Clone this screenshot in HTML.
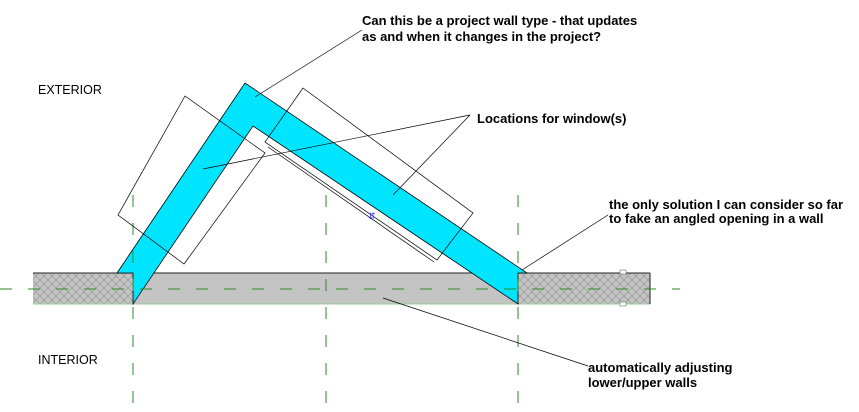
<!DOCTYPE html>
<html><head><style>
html,body{margin:0;padding:0;background:#fff;}
svg{display:block;}
text{font-family:"Liberation Sans",Arial,sans-serif;font-size:12.5px;fill:#000;}
.b{font-weight:bold;font-size:13px;}
</style></head><body>
<svg width="859" height="412" xmlns="http://www.w3.org/2000/svg">
<defs>
<pattern id="h" width="8" height="8" patternUnits="userSpaceOnUse">
<rect width="8" height="8" fill="#c4c4c4"/>
<path d="M0 0L8 8M8 0L0 8" stroke="#999" stroke-width="0.7"/>
</pattern>
</defs>
<rect x="33" y="273" width="100" height="31" fill="url(#h)"/>
<rect x="133" y="273" width="385" height="31" fill="#c4c4c4"/>
<rect x="518" y="273" width="132" height="31" fill="url(#h)"/>
<line x1="33" y1="273" x2="650" y2="273" stroke="#222" stroke-width="1"/>
<line x1="33" y1="304" x2="650" y2="304" stroke="#9c9" stroke-width="1"/>
<line x1="650" y1="273" x2="650" y2="304" stroke="#222"/>
<polygon points="117,273 245,83 527,273 518,273 518,304 253,126 133,304 133,273" fill="#00e5ff" stroke="#000" stroke-width="0.8"/>
<g stroke="#2a8a2a" stroke-width="1" stroke-dasharray="12,16" fill="none">
<line x1="0" y1="289" x2="680" y2="289"/>
<line x1="133" y1="195" x2="133" y2="410"/>
<line x1="326" y1="195" x2="326" y2="410"/>
<line x1="518" y1="195" x2="518" y2="410"/>
</g>
<g stroke="#000" stroke-width="0.7" fill="none">
<polygon points="185,96 265,153 184,264 118,215"/>
<polygon points="303,88 473,213 437,260 265,142"/>
<line x1="268" y1="147" x2="434" y2="262"/>
</g>
<text x="368" y="219" style="fill:#33f;font-size:9px">⇵</text>
<g stroke="#000" stroke-width="0.7" fill="none">
<line x1="255" y1="97" x2="362" y2="30"/>
<line x1="203" y1="169" x2="470" y2="115"/>
<line x1="393" y1="195" x2="470" y2="115"/>
<line x1="522" y1="270" x2="608" y2="215"/>
<line x1="383" y1="298" x2="588" y2="366"/>
</g>
<rect x="620" y="270" width="6" height="4" fill="#fff" stroke="#555" stroke-width="0.5"/>
<rect x="620" y="302" width="6" height="4" fill="#fff" stroke="#555" stroke-width="0.5"/>
<text x="38" y="94">EXTERIOR</text>
<text x="38" y="364">INTERIOR</text>
<text x="362" y="25" class="b">Can this be a project wall type - that updates</text>
<text x="362" y="41" class="b">as and when it changes in the project?</text>
<text x="477" y="123" class="b">Locations for window(s)</text>
<text x="609" y="209" class="b">the only solution I can consider so far</text>
<text x="609" y="223" class="b">to fake an angled opening in a wall</text>
<text x="588" y="372" class="b">automatically adjusting</text>
<text x="588" y="387" class="b">lower/upper walls</text>
</svg>
</body></html>
